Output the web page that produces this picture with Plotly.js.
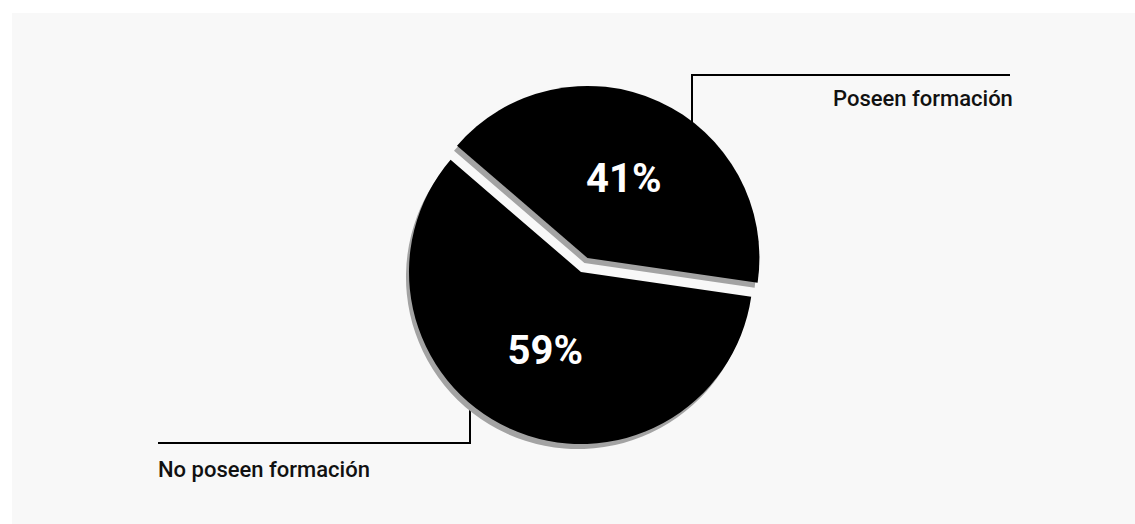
<!DOCTYPE html>
<html>
<head>
<meta charset="utf-8">
<script src="https://cdn.plot.ly/plotly-3.0.1.min.js"></script>
<style>
  html, body { margin: 0; padding: 0; background: #ffffff; }
  #chart { width: 1135px; height: 524px; }
</style>
</head>
<body>
<div id="chart"></div>
<script>
// Survey split: staff with / without training
const labels = ["Poseen formación", "No poseen formación"];
const values = [41, 59];
const pulls = [0.09, 0];

const W = 1135, H = 524;
const px = x => x / W;          // pixel -> paper x
const py = y => 1 - y / H;      // pixel -> paper y

// pie box (includes room for the pulled slice)
const cx = 581, cy = 272, box = 375;
function dom(dx, dy) {
  return {
    x: [px(cx - box / 2 + dx), px(cx + box / 2 + dx)],
    y: [py(cy + box / 2 + dy), py(cy - box / 2 + dy)]
  };
}

const common = {
  type: "pie",
  labels: labels,
  values: values,
  pull: pulls,
  sort: false,
  direction: "clockwise",
  rotation: -49.3,
  hoverinfo: "skip",
  showlegend: false
};

// soft grey drop shadow under the slices
const shadow = Object.assign({}, common, {
  domain: dom(-3, 5),
  marker: { colors: ["#a3a3a3", "#a3a3a3"], line: { width: 0 } },
  textinfo: "none"
});

const main = Object.assign({}, common, {
  domain: dom(0, 0),
  marker: { colors: ["#000000", "#000000"], line: { width: 0 } },
  textinfo: "percent",
  texttemplate: "%{percent:.0%}",
  textposition: "inside",
  insidetextorientation: "horizontal",
  insidetextfont: { family: "Roboto, sans-serif", size: 40, color: "#ffffff", weight: 700 }
});

const lineStyle = { color: "#000000", width: 2 };
const labelFont = { family: "Roboto, sans-serif", size: 22, color: "#111111", weight: 500 };

const layout = {
  width: W,
  height: H,
  margin: { l: 0, r: 0, t: 0, b: 0 },
  paper_bgcolor: "#ffffff",
  plot_bgcolor: "#ffffff",
  shapes: [
    // faint paper tone
    { type: "rect", xref: "paper", yref: "paper", x0: px(12), x1: 1, y0: 0, y1: py(13),
      fillcolor: "#f8f8f8", line: { width: 0 }, layer: "below" },
    // leader for "Poseen formación"
    { type: "line", xref: "paper", yref: "paper", x0: px(692), x1: px(692), y0: py(75), y1: py(130),
      line: lineStyle, layer: "below" },
    { type: "line", xref: "paper", yref: "paper", x0: px(691), x1: px(1010), y0: py(75), y1: py(75),
      line: lineStyle, layer: "below" },
    // leader for "No poseen formación"
    { type: "line", xref: "paper", yref: "paper", x0: px(470), x1: px(470), y0: py(443), y1: py(400),
      line: lineStyle, layer: "below" },
    { type: "line", xref: "paper", yref: "paper", x0: px(158), x1: px(471), y0: py(443), y1: py(443),
      line: lineStyle, layer: "below" }
  ],
  annotations: [
    { text: labels[0], xref: "paper", yref: "paper", x: px(1015), y: py(98),
      xanchor: "right", yanchor: "middle", showarrow: false, font: labelFont },
    { text: labels[1], xref: "paper", yref: "paper", x: px(156), y: py(469),
      xanchor: "left", yanchor: "middle", showarrow: false, font: labelFont }
  ]
};

Plotly.newPlot("chart", [shadow, main], layout, { staticPlot: true, displayModeBar: false });
</script>
</body>
</html>
